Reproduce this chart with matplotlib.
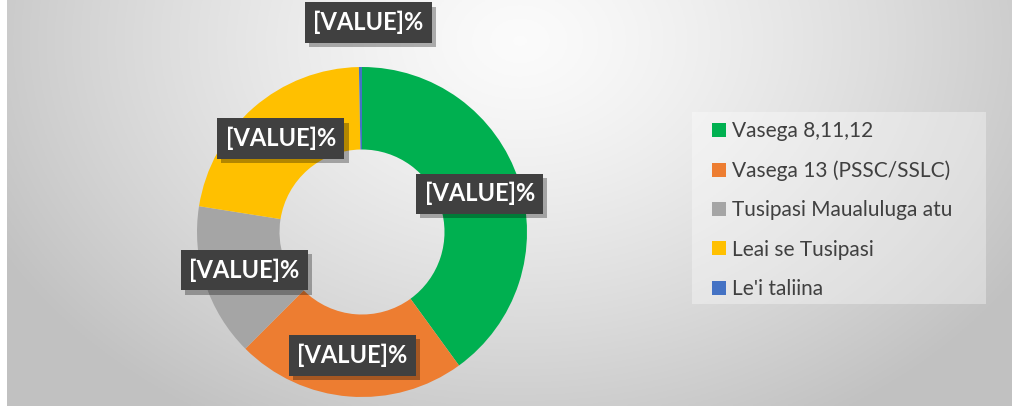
import numpy as np
import matplotlib
matplotlib.use("Agg")
import matplotlib.pyplot as plt
from matplotlib.patches import Patch, Rectangle
import matplotlib.patheffects as pe

# ---- data ----
categories = ["Vasega 8,11,12", "Vasega 13 (PSSC/SSLC)", "Tusipasi Maualuluga atu",
              "Leai se Tusipasi", "Le'i taliina"]
values = [40.0, 22.5, 15.0, 22.2, 0.3]
labels = ["[VALUE]%"] * 5
colors = ["#00B050", "#ED7D31", "#A5A5A5", "#FFC000", "#4472C4"]

W, H = 1016, 416
fig = plt.figure(figsize=(W / 100, H / 100), dpi=100)
fig.patch.set_facecolor("white")

# ---- background gradient chart area ----
bx0, bx1, by0, by1 = 7, 1012, 0, 406
bg = fig.add_axes([bx0 / W, 1 - by1 / H, (bx1 - bx0) / W, (by1 - by0) / H])
gx, gy = np.meshgrid(np.linspace(bx0, bx1, 400), np.linspace(by0, by1, 200))
d = np.sqrt(((gx - 520) / 560) ** 2 + ((gy - 40) / 420) ** 2)
shade = np.clip(0.985 - 0.21 * d ** 1.3, 0.76, 1.0)
bg.imshow(np.dstack([shade] * 3), aspect="auto", extent=(0, 1, 0, 1), origin="upper")
bg.set_axis_off()

# ---- donut ----
cx, cy, R = 362, 232, 165
ax = fig.add_axes([(cx - R) / W, 1 - (cy + R) / H, 2 * R / W, 2 * R / H])
ax.set_facecolor("none")
wedges, _ = ax.pie(values, colors=colors, startangle=90, counterclock=False,
                   radius=1.0, wedgeprops=dict(width=0.5, linewidth=0))
ax.set_xlim(-1, 1)
ax.set_ylim(-1, 1)
ax.set_aspect("equal")
ax.set_axis_off()

label_r = [0.75, 0.75, 0.75, 0.75, 1.27]
for i, (w, lab) in enumerate(zip(wedges, labels)):
    mid = np.deg2rad((w.theta1 + w.theta2) / 2)
    if i == 4:
        mid = np.deg2rad(88.3)
    x, y = label_r[i] * np.cos(mid), label_r[i] * np.sin(mid)
    t = ax.text(x, y, lab, ha="center", va="center", fontsize=17, fontweight="bold",
                family="Lato", color="white",
                bbox=dict(boxstyle="square,pad=0.36", facecolor="#404040",
                          edgecolor="none"), clip_on=False, zorder=5)
    t.get_bbox_patch().set_path_effects(
        [pe.SimplePatchShadow(offset=(3, -3), shadow_rgbFace="black", alpha=0.3),
         pe.Normal()])

# ---- legend ----
fig.patches.append(Rectangle((692 / W, 1 - 304 / H), (986 - 692) / W, (304 - 112) / H,
                             transform=fig.transFigure, facecolor="white",
                             alpha=0.35, edgecolor="none", zorder=1))
handles = [Patch(facecolor=c, edgecolor="none") for c in colors]
leg = fig.legend(handles, categories, loc="upper left",
                 bbox_to_anchor=(712 / W, 1 - 121 / H), frameon=False,
                 handlelength=0.65, handleheight=0.65, borderaxespad=0,
                 handletextpad=0.3, labelspacing=0.93, borderpad=0,
                 prop=dict(family="Lato", size=15))
for t in leg.get_texts():
    t.set_color("#404040")

fig.savefig("out.png", dpi=100)
